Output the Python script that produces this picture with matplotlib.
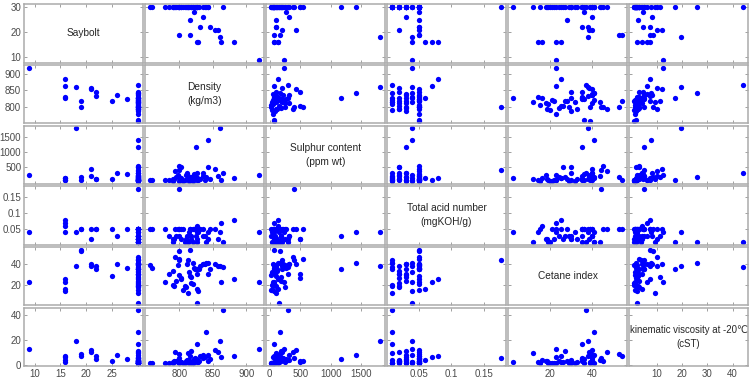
import matplotlib
matplotlib.use("Agg")
import matplotlib.pyplot as plt
from matplotlib.ticker import FuncFormatter, FixedLocator

plt.rcParams['font.family'] = ['Liberation Sans', 'DejaVu Sans']

# ---------------- data (one entry per fuel sample) ----------------
saybolt = [9, 16, 16, 16, 16, 18, 19, 19, 21, 21, 22, 22, 25, 26, 28,
           30, 30, 30, 30, 30, 30, 30, 30, 30, 30, 30, 30, 30, 30, 30,
           30, 30, 30, 30, 30, 30, 30, 30, 30, 30, 30, 30, 30, 30, 30,
           30, 30, 30, 30, 30, 30, 30, 30]
density = [918, 882, 862, 826, 828, 860, 800, 816, 853, 857, 831, 845, 816, 835, 822,
           760, 757, 778, 785, 791, 793, 800, 790, 792, 800, 803, 802, 813, 808, 810,
           817, 813, 823, 826, 830, 827, 827, 838, 840, 836, 843, 820, 812, 798, 865,
           842, 825, 800, 805, 818, 815, 795, 820]
sulphur = [240, 130, 80, 130, 80, 1800, 170, 80, 430, 210, 100, 100, 100, 320, 270,
           80, 70, 60, 90, 120, 390, 540, 40, 100, 30, 500, 150, 200, 60, 250,
           180, 100, 200, 80, 120, 150, 300, 60, 170, 220, 500, 130, 320, 250, 300,
           1411, 1167, 400, 30, 80, 40, 180, 50]
tan_num = [0.04, 0.08, 0.07, 0.06, 0.04, 0.04, 0.05, 0.05, 0.05, 0.02, 0.05, 0.05, 0.05, 0.03, 0.05,
           0.05, 0.05, 0.05, 0.03, 0.02, 0.05, 0.05, 0.01, 0.02, 0.03, 0.02, 0.05, 0.01, 0.01, 0.02,
           0.03, 0.01, 0.05, 0.01, 0.05, 0.04, 0.02, 0.03, 0.01, 0.05, 0.02, 0.01, 0.03, 0.05, 0.01,
           0.04, 0.03, 0.175, 0.05, 0.02, 0.04, 0.03, 0.05]
cetane = [23, 25, 23, 16, 14, 38, 53, 54, 40, 38.5, 38, 35, 28, 40, 36,
          36, 39, 23, 30, 33, 47, 45, 20, 18.5, 29, 26, 25, 43.5, 19, 18,
          27, 12, 35, 35, 35, 2.5, 30, 40, 41, 40, 30, 41, 40, 39, 37,
          41, 35, 44, 15, 22, 32, 24, 21]
viscosity = [12.4, 7.3, 6, 4, 2, 19.5, 8.4, 7, 12, 10, 7, 4.5, 2.6, 8, 4.5,
             1.5, 1.0, 1.2, 1.5, 2.0, 10, 3, 1.0, 2.5, 1.2, 1.8, 2.2, 3.5, 1.5, 2.8,
             11, 9, 5, 17, 3, 2, 4, 6, 26, 5, 3, 1.5, 4, 2, 44,
             7.5, 4.7, 5, 1.1, 1, 1.3, 3, 1.2]

labels = ["Saybolt", "Density\n(kg/m3)", "Sulphur content\n(ppm wt)",
          "Total acid number\n(mgKOH/g)", "Cetane index",
          "kinematic viscosity at -20\u2103\n(cST)"]
x_ticks = [[10, 15, 20, 25], [800, 850, 900], [0, 500, 1000, 1500],
           [0.05, 0.1, 0.15], [20, 40], [10, 20, 30, 40]]
y_ticks = [[10, 20, 30], [800, 850, 900], [500, 1000, 1500],
           [0.05, 0.1, 0.15], [20, 40], [0, 20, 40]]

data = [saybolt, density, sulphur, tan_num, cetane, viscosity]
n = len(data)

# ---------------- layout ----------------
W, H = 756, 383
fig = plt.figure(figsize=(W / 100, H / 100), dpi=100)
left_px, right_px, top_px, bot_px = 24, 748, 4.3, 366
gx, gy = 2, 2.3
cw = (right_px - left_px - gx * (n - 1)) / n
rh = (bot_px - top_px - gy * (n - 1)) / n

def limits(v):
    lo, hi = min(v), max(v)
    d = (hi - lo) * 0.05
    return lo - d, hi + d

lims = [limits(v) for v in data]
fmt = FuncFormatter(lambda v, p: "%g" % v)
spine_c = "#ababab"
tick_c = "#4a4a4a"

for i in range(n):          # row -> y variable
    for j in range(n):      # col -> x variable
        x0 = left_px + j * (cw + gx)
        y0 = top_px + i * (rh + gy)
        ax = fig.add_axes([x0 / W, 1 - (y0 + rh) / H, cw / W, rh / H])
        ax.set_xlim(*lims[j])
        ax.set_ylim(*lims[i])
        if i == j:
            fs = 6.9 if i == n - 1 else 7.3
            ax.text(0.5, 0.5, labels[i], ha="center", va="center",
                    transform=ax.transAxes, fontsize=fs, color="#262626",
                    linespacing=1.5, clip_on=True)
        else:
            ax.plot(data[j], data[i], "o", ms=3.8, mfc="#0000ff",
                    mec="#0000ff", mew=0, clip_on=True)
        ax.xaxis.set_major_locator(FixedLocator(x_ticks[j]))
        ax.yaxis.set_major_locator(FixedLocator(y_ticks[i]))
        ax.xaxis.set_major_formatter(fmt)
        ax.yaxis.set_major_formatter(fmt)
        ax.tick_params(direction="in", length=2.2, width=0.6, color="#909090",
                       top=True, right=True, labelsize=7, labelcolor=tick_c,
                       pad=2,
                       labelbottom=(i == n - 1), labelleft=(j == 0))
        for s in ax.spines.values():
            s.set_color(spine_c)
            s.set_linewidth(1.1)

fig.savefig("out.png", dpi=100)
